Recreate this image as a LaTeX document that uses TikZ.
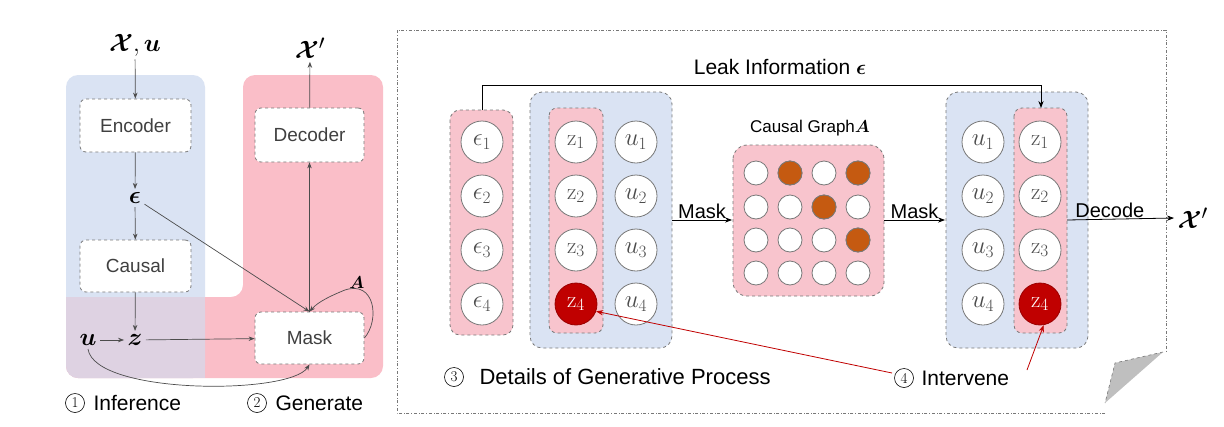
\documentclass[tikz,border=0pt]{standalone}
\usepackage{amsmath,amssymb,bm}
\usepackage{fontspec}
\setmainfont{Liberation Sans}
\newfontfamily\lmr{Latin Modern Roman}
\usetikzlibrary{arrows.meta}
\definecolor{bl}{RGB}{218,227,243}
\definecolor{pk}{RGB}{248,196,205}
\definecolor{pk2}{RGB}{250,190,200}
\definecolor{pu}{RGB}{222,210,226}
\definecolor{rd}{RGB}{192,0,0}
\definecolor{og}{RGB}{197,90,17}
\definecolor{gr}{RGB}{120,120,120}
\newcommand{\zz}[1]{{\lmr z}$_{#1}$}
\begin{document}
\begin{tikzpicture}[x=1pt,y=-1pt,
  box/.style={draw=gr,dashed,rounded corners=6pt,fill=white,line width=0.8pt,font=\fontsize{19}{19}\selectfont,text=black!75},
  grp/.style={draw=gr,dashed,rounded corners=10pt,line width=0.8pt},
  cir/.style={circle,draw=gr,fill=white,minimum size=42pt,inner sep=0pt,line width=0.8pt,font=\fontsize{23}{23}\selectfont,text=black!70},
  dot/.style={circle,draw=gr,fill=white,minimum size=24pt,inner sep=0pt,line width=0.8pt},
  arr/.style={-{Stealth[length=6pt]},draw=black!70,line width=0.7pt},
  arb/.style={-{Stealth[length=7pt]},draw=black,line width=0.8pt},
  arr2/.style={-{Stealth[length=7pt]},draw=rd,line width=0.8pt},
  num/.style={circle,draw=black,line width=0.6pt,inner sep=0pt,minimum size=19pt,font=\lmr\fontsize{15}{15}\selectfont},
  lab/.style={font=\fontsize{21}{21}\selectfont}]
\useasboundingbox (0,0) rectangle (1224,426);
% left panel backgrounds
\fill[bl,rounded corners=12pt] (66,75) rectangle (205,378);
\fill[pk2,rounded corners=12pt] (66,297) -- (243,297) -- (243,75) -- (383,75) -- (383,378) -- (66,378) -- cycle;
\fill[pu,rounded corners=12pt] (66,297) -- (205,297) -- (205,378) -- (66,378) -- cycle;
\fill[pu] (66,297) rectangle (80,310);
\fill[pu] (190,297) rectangle (205,378);
\node[box,minimum width=111pt,minimum height=53pt] (enc) at (135.5,125.5) {Encoder};
\node[box,minimum width=111pt,minimum height=52pt] (cau) at (135.5,266) {Causal};
\node[box,minimum width=109pt,minimum height=54pt] (dec) at (309.5,135) {Decoder};
\node[box,minimum width=109pt,minimum height=52pt] (msk) at (309.5,338) {Mask};
\node[font=\fontsize{28}{28}\selectfont] (xu) at (135,45) {$\bm{\mathcal{X}},\bm{u}$};
\node[font=\fontsize{28}{28}\selectfont] (xp) at (310,48) {$\bm{\mathcal{X}}'$};
\node[font=\fontsize{26}{26}\selectfont] (eps) at (135,198) {$\bm{\epsilon}$};
\node[font=\fontsize{26}{26}\selectfont] (u) at (88,340) {$\bm{u}$};
\node[font=\fontsize{26}{26}\selectfont] (z) at (135,340) {$\bm{z}$};
\node[font=\fontsize{19}{19}\selectfont] (A) at (357,283) {$\bm{A}$};
\draw[arr] (xu) -- (enc);
\draw[arr] (enc) -- (eps);
\draw[arr] (eps) -- (cau);
\draw[arr] (cau) -- (z);
\draw[arr] (u) -- (z);
\draw[arr] (z) -- (msk);
\draw[arr] (eps) -- (msk.north);
\draw[arr] (msk.north) -- (dec);
\draw[arr] (dec) -- (xp);
\draw[arr] (u.south) .. controls (95,395) and (290,395) .. (msk.south);
\draw[arr] (msk.east) .. controls (380,320) and (375,280) .. (345,290) .. controls (330,296) and (318,302) .. (msk.north);
\node[num] (n1) at (75,403) {1};
\node[lab,anchor=west] (l1) at (90,403) {Inference};
\node[num] (n2) at (257,403) {2};
\node[lab,anchor=west] (l2) at (272,403) {Generate};
% right panel frame
\draw[gr,dash dot,line width=0.7pt] (1105,413) -- (397,413) -- (397,30) -- (1166,30) -- (1166,352);
\fill[black!25] (1163,352) -- (1115,363) -- (1105,403) -- cycle;
\draw[gr,dashed,line width=0.6pt] (1163,352) -- (1115,363) -- (1105,403);
% eps column
\fill[pk,rounded corners=10pt] (450,110) rectangle (513,335);
\draw[grp] (450,110) rectangle (513,335);
\foreach \i/\y in {1/142,2/196,3/250,4/304}{
  \node[cir] (e\i) at (482,\y) {$\epsilon_{\i}$};}
% left blue
\fill[bl,rounded corners=12pt] (530,92) rectangle (672,348);
\draw[grp,rounded corners=12pt] (530,92) rectangle (672,348);
\fill[pk,rounded corners=8pt] (549,108) rectangle (603,333);
\draw[grp,rounded corners=8pt] (549,108) rectangle (603,333);
\foreach \i/\y in {1/142,2/196,3/250}{
  \node[cir] (za\i) at (576,\y) {\zz{\i}};
  \node[cir] (ua\i) at (636,\y) {$u_{\i}$};}
\node[cir,fill=rd,text=white,draw=rd!80!black] (za4) at (576,304) {\zz{4}};
\node[cir] (ua4) at (636,304) {$u_4$};
% causal graph
\node[font=\fontsize{17}{17}\selectfont] (cg) at (810,128) {Causal Graph$\bm{A}$};
\fill[pk,rounded corners=14pt] (733,145) rectangle (884,296);
\draw[grp,rounded corners=14pt] (733,145) rectangle (884,296);
\foreach \r/\y in {1/173,2/207,3/240,4/273}{
  \foreach \c/\x in {1/756,2/790,3/824,4/858}{
    \node[dot] (g\r\c) at (\x,\y) {};}}
\foreach \n in {g12,g14,g23,g34}{\fill[og] (\n) circle (12pt); \draw[gr,line width=0.8pt] (\n) circle (12pt);}
% right blue
\fill[bl,rounded corners=12pt] (946,92) rectangle (1088,348);
\draw[grp,rounded corners=12pt] (946,92) rectangle (1088,348);
\fill[pk,rounded corners=8pt] (1014,108) rectangle (1067,333);
\draw[grp,rounded corners=8pt] (1014,108) rectangle (1067,333);
\foreach \i/\y in {1/142,2/196,3/250}{
  \node[cir] (ub\i) at (983,\y) {$u_{\i}$};
  \node[cir] (zb\i) at (1040,\y) {\zz{\i}};}
\node[cir] (ub4) at (983,304) {$u_4$};
\node[cir,fill=rd,text=white,draw=rd!80!black] (zb4) at (1040,304) {\zz{4}};
% arrows
\coordinate (lb1) at (672,220); \coordinate (lb2) at (732,220);
\draw[arb] (lb1) -- node[above,font=\fontsize{20}{20}\selectfont,yshift=-2pt]{Mask} (lb2);
\coordinate (lb3) at (884,220); \coordinate (lb4) at (945,220);
\draw[arb] (lb3) -- node[above,font=\fontsize{20}{20}\selectfont,yshift=-2pt]{Mask} (lb4);
\node[font=\fontsize{30}{30}\selectfont,anchor=west] (xp2) at (1174,218) {$\bm{\mathcal{X}}'$};
\coordinate (dz) at (1067,220);
\draw[arb] (dz) -- node[above,font=\fontsize{20}{20}\selectfont,pos=0.4,yshift=-2pt]{Decode} (xp2.west);
\coordinate (lk1) at (482,110); \coordinate (lk2) at (1041,108);
\draw[arb] (lk1) -- (482,85) -- (1041,85) -- (lk2);
\node[font=\fontsize{21}{21}\selectfont] (lk) at (780,67) {Leak Information $\bm{\epsilon}$};
\node[num] (n3) at (454,377) {3};
\node[font=\fontsize{22}{22}\selectfont,anchor=west] (l3) at (476,377) {Details of Generative Process};
\node[num] (n4) at (904,378) {4};
\node[lab,anchor=west] (l4) at (918,378) {Intervene};
\coordinate (r1) at (892,373); \coordinate (r2) at (1027,370);
\draw[arr2] (r1) -- (za4.-20);
\draw[arr2] (r2) -- (zb4.-80);
\end{tikzpicture}
\end{document}
